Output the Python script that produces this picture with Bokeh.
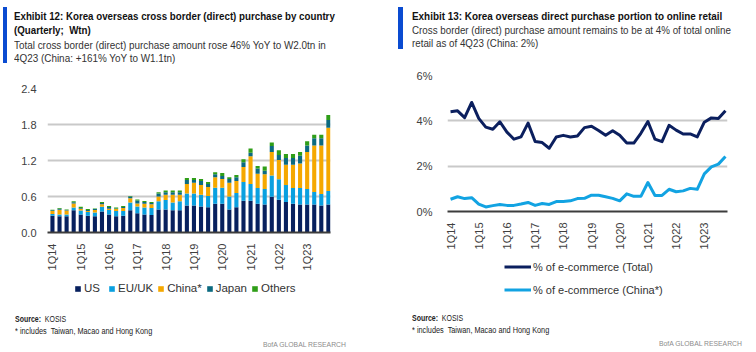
import math
from bokeh.plotting import figure
from bokeh.models import (Legend, LegendItem, FixedTicker, PrintfTickFormatter, Range1d,
                          ColumnDataSource, Div)
from bokeh.layouts import row, column
from bokeh.embed import file_html
from bokeh.resources import INLINE

# ---------------- data ----------------
quarters = ["1Q14", "2Q14", "3Q14", "4Q14", "1Q15", "2Q15", "3Q15", "4Q15",
            "1Q16", "2Q16", "3Q16", "4Q16", "1Q17", "2Q17", "3Q17", "4Q17",
            "1Q18", "2Q18", "3Q18", "4Q18", "1Q19", "2Q19", "3Q19", "4Q19",
            "1Q20", "2Q20", "3Q20", "4Q20", "1Q21", "2Q21", "3Q21", "4Q21",
            "1Q22", "2Q22", "3Q22", "4Q22", "1Q23", "2Q23", "3Q23", "4Q23"]
tick_labels = ["1Q14", "1Q15", "1Q16", "1Q17", "1Q18", "1Q19", "1Q20", "1Q21", "1Q22", "1Q23"]

# Exhibit 12 (W tn)
us = [0.28, 0.27, 0.27, 0.37, 0.30, 0.28, 0.27, 0.35, 0.30, 0.27,
      0.28, 0.37, 0.32, 0.30, 0.29, 0.385, 0.385, 0.37, 0.37, 0.45,
      0.45, 0.435, 0.42, 0.48, 0.48, 0.385, 0.42, 0.53, 0.53, 0.48,
      0.465, 0.595, 0.546, 0.51, 0.48, 0.465, 0.465, 0.465, 0.45, 0.465]
eu_uk = [0.03, 0.03, 0.03, 0.045, 0.065, 0.06, 0.065, 0.08, 0.075, 0.09,
         0.08, 0.13, 0.115, 0.115, 0.12, 0.135, 0.155, 0.13, 0.15, 0.20,
         0.20, 0.195, 0.19, 0.265, 0.265, 0.215, 0.24, 0.31, 0.28, 0.26,
         0.26, 0.355, 0.34, 0.28, 0.26, 0.275, 0.26, 0.21, 0.19, 0.225]
china = [0.05, 0.08, 0.065, 0.07, 0.03, 0.02, 0.04, 0.04, 0.02, 0.03,
         0.05, 0.07, 0.05, 0.065, 0.06, 0.08, 0.09, 0.13, 0.11, 0.16,
         0.18, 0.16, 0.15, 0.175, 0.145, 0.23, 0.20, 0.25, 0.46, 0.24,
         0.245, 0.39, 0.324, 0.34, 0.39, 0.41, 0.615, 0.775, 0.81, 1.055]
japan = [0.01, 0.015, 0.01, 0.02, 0.015, 0.015, 0.015, 0.02, 0.03, 0.01,
         0.015, 0.03, 0.05, 0.03, 0.02, 0.05, 0.04, 0.04, 0.04, 0.065,
         0.045, 0.07, 0.05, 0.05, 0.05, 0.06, 0.06, 0.08, 0.06, 0.085,
         0.06, 0.10, 0.08, 0.11, 0.11, 0.13, 0.11, 0.12, 0.12, 0.13]
others = [0.01, 0.015, 0.01, 0.015, 0.02, 0.015, 0.01, 0.02, 0.015, 0.015,
          0.015, 0.01, 0.015, 0.015, 0.02, 0.02, 0.03, 0.03, 0.03, 0.035,
          0.035, 0.03, 0.03, 0.035, 0.05, 0.03, 0.04, 0.05, 0.07, 0.045,
          0.07, 0.06, 0.08, 0.07, 0.07, 0.06, 0.07, 0.06, 0.06, 0.085]
bar_series = ["US", "EU/UK", "China*", "Japan", "Others"]
bar_colors = ["#07205e", "#0aa0e0", "#f5a800", "#0b6a80", "#2f9e18"]

# Exhibit 13 (% of e-commerce)
pct_total = [4.40, 4.44, 4.14, 4.81, 4.11, 3.72, 3.63, 3.96, 3.50, 3.19,
             3.29, 3.90, 3.09, 3.04, 2.79, 3.29, 3.36, 3.29, 3.33, 3.70,
             3.76, 3.57, 3.36, 3.56, 3.36, 3.02, 3.02, 3.45, 3.97, 3.19,
             3.08, 3.80, 3.59, 3.42, 3.42, 3.29, 3.94, 4.13, 4.10, 4.44]
pct_china = [0.54, 0.65, 0.57, 0.61, 0.33, 0.20, 0.26, 0.31, 0.27, 0.27,
             0.33, 0.40, 0.27, 0.35, 0.31, 0.44, 0.44, 0.47, 0.57, 0.58,
             0.72, 0.72, 0.65, 0.58, 0.47, 0.78, 0.67, 0.67, 1.28, 0.71,
             0.71, 0.98, 0.87, 0.91, 1.02, 0.98, 1.66, 1.97, 2.09, 2.43]
line_names = ["% of e-commerce (Total)", "% of e-commerce (China*)"]
line_colors = ["#0b1f5e", "#12a3e2"]

FONT = "Liberation Sans"
CSSFONT = "'Liberation Sans', Arial, sans-serif"
TXT = "#333333"
GRID = "#c9c9c9"
BLUE = "#0a4bd1"

idx = list(range(len(quarters)))
tick_pos = [quarters.index(t) for t in tick_labels]
overrides = {i: quarters[i] for i in tick_pos}

W = 378
HDR_H = 68


def txt(left, cy, text, size, bold=False, color="#1a1a1a", sx=1.0):
    w = "bold" if bold else "normal"
    lh = size + 3
    top = cy - lh / 2
    return (f'<div style="position:absolute;left:{left}px;top:{top}px;white-space:nowrap;'
            f'font-family:{CSSFONT};font-size:{size}px;font-weight:{w};color:{color};'
            f'line-height:{lh}px;transform:scaleX({sx});transform-origin:0 50%;">{text}</div>')


def make_div(inner, h):
    html = (f'<div style="position:relative;width:{W}px;height:{h}px;overflow:visible;">'
            + inner + '</div>')
    return Div(text=html, width=W, height=h, margin=0)


def style_axes(p):
    p.outline_line_color = None
    p.xgrid.grid_line_color = None
    p.ygrid.grid_line_color = GRID
    p.ygrid.grid_line_width = 2
    p.yaxis.axis_line_color = None
    p.yaxis.major_tick_line_color = None
    p.yaxis.minor_tick_line_color = None
    p.xaxis.major_tick_line_color = None
    p.xaxis.minor_tick_line_color = None
    p.xaxis.axis_line_color = "#3c3c3c"
    p.xaxis.axis_line_width = 2
    for ax in (p.xaxis, p.yaxis):
        ax.major_label_text_font = FONT
        ax.major_label_text_font_size = "11px"
        ax.major_label_text_color = "#404040"
    p.xaxis.ticker = FixedTicker(ticks=tick_pos)
    p.xaxis.major_label_overrides = overrides
    p.xaxis.major_label_orientation = math.pi / 2
    p.xaxis.major_label_standoff = 5


def legend_fig(h, x_range):
    # legend-only strip: same x range as its chart, y range above the data so no mark shows
    f = figure(width=W, height=h, x_range=x_range, y_range=Range1d(50, 51),
               x_axis_type=None, y_axis_type=None, output_backend="svg",
               toolbar_location=None, min_border=0, min_border_left=0,
               min_border_right=0, min_border_top=0, min_border_bottom=0)
    f.outline_line_color = None
    f.grid.grid_line_color = None
    return f


# ---------------- left: Exhibit 12 ----------------
L_FIG_BOTTOM = 273
xrL = Range1d(-0.7, 39.3)
pL = figure(width=W, height=L_FIG_BOTTOM - HDR_H, x_range=xrL,
            y_range=Range1d(0, 2.4), output_backend="svg", toolbar_location=None,
            min_border_left=47, min_border_right=W - 330,
            min_border_top=88 - HDR_H, min_border_bottom=L_FIG_BOTTOM - 236)
src = ColumnDataSource(data={"x": idx, "US": us, "EU/UK": eu_uk, "China*": china,
                             "Japan": japan, "Others": others})
pL.vbar_stack(bar_series, x="x", width=0.58, color=bar_colors, line_color=None, source=src)
style_axes(pL)
pL.yaxis.ticker = FixedTicker(ticks=[0, 0.6, 1.2, 1.8, 2.4])
pL.yaxis.formatter = PrintfTickFormatter(format="%.1f")
pL.yaxis.major_label_standoff = 5

L_LEG_H = 30
gL = legend_fig(L_LEG_H, xrL)
rsL = gL.vbar_stack(bar_series, x="x", width=0.58, color=bar_colors, line_color=None, source=src)
gL.add_layout(Legend(items=[LegendItem(label=n, renderers=[r]) for n, r in zip(bar_series, rsL)],
                     orientation="horizontal", location=(27, 8),
                     glyph_width=7, glyph_height=7, label_standoff=3, spacing=4,
                     label_text_font=FONT, label_text_font_size="11.5px", label_text_color=TXT,
                     label_height=14, padding=0, margin=0,
                     border_line_alpha=0, background_fill_alpha=0))

# ---------------- right: Exhibit 13 ----------------
R_FIG_BOTTOM = 252
xrR = Range1d(-0.43, 39.29)
pR = figure(width=W, height=R_FIG_BOTTOM - HDR_H, x_range=xrR,
            y_range=Range1d(0, 6), output_backend="svg", toolbar_location=None,
            min_border_left=69, min_border_right=W - 349,
            min_border_top=75 - HDR_H, min_border_bottom=R_FIG_BOTTOM - 215)
pR.line(idx, pct_total, line_width=3, color=line_colors[0], line_join="round")
pR.line(idx, pct_china, line_width=3, color=line_colors[1], line_join="round")
style_axes(pR)
pR.yaxis.ticker = FixedTicker(ticks=[0, 2, 4, 6])
pR.yaxis.formatter = PrintfTickFormatter(format="%d%%")
pR.yaxis.major_label_standoff = 9

R_LEG_H = 303 - R_FIG_BOTTOM
gR = legend_fig(R_LEG_H, xrR)
lr = [gR.line(idx, pct_total, line_width=3, color=line_colors[0]),
      gR.line(idx, pct_china, line_width=3, color=line_colors[1])]
gR.add_layout(Legend(items=[LegendItem(label=n, renderers=[r]) for n, r in zip(line_names, lr)],
                     orientation="vertical", location=(57, 6),
                     glyph_width=27, glyph_height=15, label_standoff=2, spacing=8,
                     label_text_font=FONT, label_text_font_size="11px", label_text_color=TXT,
                     label_height=15, padding=0, margin=0,
                     border_line_alpha=0, background_fill_alpha=0))

# ---------------- headers / footers ----------------
hL = make_div(
    f'<div style="position:absolute;left:3px;top:7px;width:4px;height:56px;background:{BLUE};"></div>'
    + txt(14, 16, "Exhibit 12: Korea overseas cross border (direct) purchase by country", 11, True, "#111", 0.885)
    + txt(14, 30, "(Quarterly;&nbsp; Wtn)", 11, True, "#111", 0.885)
    + txt(14, 45, "Total cross border (direct) purchase amount rose 46% YoY to W2.0tn in", 11, False, TXT, 0.9)
    + txt(14, 58, "4Q23 (China: +161% YoY to W1.1tn)", 11, False, TXT, 0.9), HDR_H)
hR = make_div(
    f'<div style="position:absolute;left:20px;top:7px;width:5px;height:42px;background:{BLUE};"></div>'
    + txt(34, 16, "Exhibit 13: Korea overseas direct purchase portion to online retail", 11, True, "#111", 0.9)
    + txt(34, 30, "Cross border (direct) purchase amount remains to be at 4% of total online", 11, False, TXT, 0.89)
    + txt(34, 43, "retail as of 4Q23 (China: 2%)", 11, False, TXT, 0.89), HDR_H)

FY = 303
FTR_H = 352 - FY
fL = make_div(
    txt(15, 320 - FY, "<b>Source:</b>&nbsp; KOSIS", 8.5, False, "#222", 0.82)
    + txt(15, 332 - FY, "* includes&nbsp; Taiwan, Macao and Hong Kong", 8.5, False, "#222", 0.86)
    + txt(263, 344 - FY, "BofA GLOBAL RESEARCH", 8, False, "#8c8c8c", 0.85), FTR_H)
fR = make_div(
    txt(34, 319 - FY, "<b>Source:</b>&nbsp; KOSIS", 8.5, False, "#222", 0.82)
    + txt(34, 331 - FY, "* includes&nbsp; Taiwan, Macao and Hong Kong", 8.5, False, "#222", 0.86)
    + txt(281, 343 - FY, "BofA GLOBAL RESEARCH", 8, False, "#8c8c8c", 0.85), FTR_H)

layout = row(column(hL, pL, gL, fL), column(hR, pR, gR, fR))
open("out.html", "w").write(file_html(layout, INLINE))
